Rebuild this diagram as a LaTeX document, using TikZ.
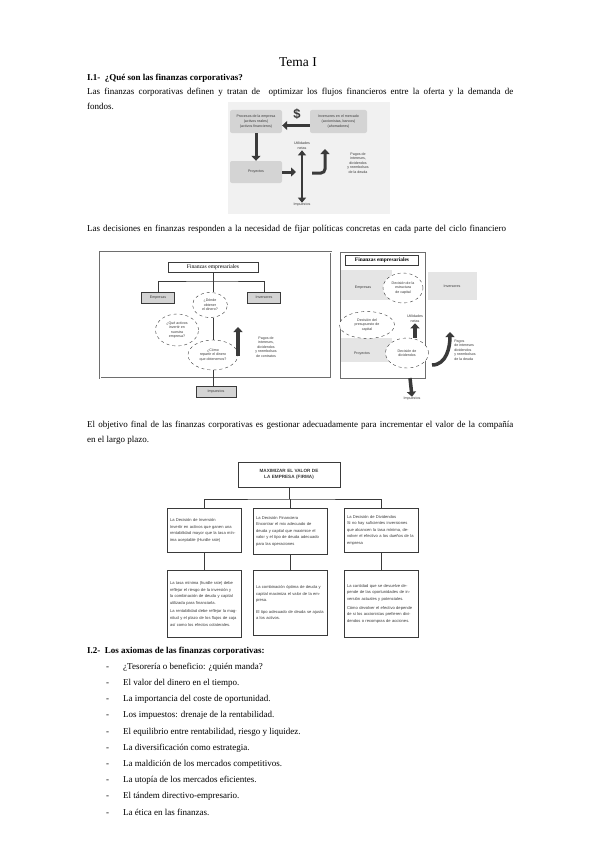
\documentclass[tikz,border=0pt]{standalone}
\usepackage{fontspec}
\setmainfont{Liberation Serif}
\setsansfont{Liberation Sans}
\usetikzlibrary{arrows.meta,positioning,shapes.geometric,calc,shadows}
\definecolor{scangray}{HTML}{D4D4D4}
\definecolor{scanpale}{HTML}{F1F1F1}
\definecolor{scanline}{HTML}{6E6E6E}
\definecolor{scanink}{HTML}{3A3A3A}
\tikzset{
  bodytext/.style={
    anchor=north west,
    inner sep=0pt,
    text width=426pt,
    align=justify,
    font=\fontsize{9}{14.5}\selectfont
  },
  heading/.style={
    anchor=base west,
    inner sep=0pt,
    font=\bfseries\fontsize{9}{11}\selectfont
  },
  listitem/.style={
    anchor=base west,
    inner sep=0pt,
    font=\fontsize{9}{11}\selectfont
  },
  graybox/.style={
    fill=scangray,
    rounded corners=2pt,
    align=center,
    text=scanink,
    font=\sffamily\fontsize{3.6}{4.6}\selectfont
  },
  scanlabel/.style={
    align=center,
    inner sep=0.5pt,
    text=scanink,
    font=\sffamily\fontsize{3.6}{4.6}\selectfont
  },
  dashell/.style={
    ellipse,
    draw=scanink,
    dashed,
    fill=white,
    inner sep=0pt,
    align=center,
    text=scanink,
    font=\sffamily\fontsize{3.6}{4.6}\selectfont
  },
  goalbox/.style={
    draw=scanink,
    fill=white,
    line width=0.6pt,
    drop shadow={shadow xshift=1pt,shadow yshift=-1pt,opacity=0.6},
    inner sep=2.5pt,
    align=left,
    text width=68pt,
    minimum width=74pt,
    anchor=north,
    text=scanink,
    font=\sffamily\fontsize{4.1}{6.6}\selectfont
  },
  fatarrow/.style={
    -{Triangle[length=5pt,width=9pt]},
    line width=3pt,
    draw=scanink
  },
  thinline/.style={
    draw=scanink,
    line width=0.6pt
  }
}

\begin{document}
\begin{tikzpicture}[x=1pt,y=-1pt]
  \useasboundingbox (0,0) rectangle (599,848);
  \fill[white] (0,0) rectangle (599,848);

  % page text
  \node[font=\fontsize{13.5}{15}\selectfont, inner sep=0pt] (title) at (298,62) {Tema I};
  \node[heading] (sec1) at (87,81) {I.1-\ \ ¿Qué son las finanzas corporativas?};
  \node[bodytext] (par1) at (87,88) {Las finanzas corporativas definen y tratan de\ \ optimizar los flujos financieros entre la oferta y la demanda de\linebreak fondos.};

  % flujo de fondos
  \fill[scanpale] (228,102) rectangle (390,214);
  \node[graybox, minimum width=52pt, minimum height=23pt] (procA) at (256,121.5) {Procesos de la empresa\\(activos reales)\\(activos financieros)};
  \node[graybox, minimum width=57pt, minimum height=23pt] (mercA) at (338.5,121.5) {Inversores en el mercado\\(accionistas, bancos)\\(ahorradores)};
  \node[font=\sffamily\bfseries\fontsize{13}{13}\selectfont, text=scanink, inner sep=0pt] (dollarA) at (297,114) {\$};
  \node[graybox, minimum width=52pt, minimum height=22pt] (proyA) at (256,172) {Proyectos};
  \node[scanlabel] (utilA) at (302,146) {Utilidades\\netas};
  \node[scanlabel] (impA) at (302,205) {Impuestos};
  \node[scanlabel, font=\sffamily\fontsize{3.6}{4.4}\selectfont] (pagosA) at (358,163) {Pagos de\\intereses,\\dividendos\\y reembolsos\\de la deuda};
  \coordinate (vlineA) at (296,172);
  \coordinate (bendA0) at (312,173);
  \coordinate (bendA1) at (325,149);
  \draw[fatarrow] ([yshift=-4pt]mercA.west) -- ([yshift=-4pt]procA.east);
  \draw[fatarrow] (procA.south) -- (proyA.north);
  \draw[fatarrow] (proyA.east) -- (vlineA);
  \draw[fatarrow, line width=2.5pt, {Triangle[length=5pt,width=8pt]}-{Triangle[length=5pt,width=8pt]}] (utilA.south) -- (impA.north);
  \draw[fatarrow, rounded corners=4pt] (bendA0) -| (bendA1);

  \node[bodytext, text width=440pt, align=left] (par2) at (87,225) {Las decisiones en finanzas responden a la necesidad de fijar políticas concretas en cada parte del ciclo financiero};

  % finanzas empresariales (izquierda)
  \draw[scanline, line width=0.5pt, double=white, double distance=1pt] (100,252) rectangle (331,378);
  \node[draw=scanink, fill=white, minimum width=90pt, minimum height=10pt, inner sep=0pt, font=\fontsize{5.6}{6}\selectfont] (finA) at (213,267) {Finanzas empresariales};
  \node[graybox, draw=scanink, rounded corners=0pt, minimum width=33pt, minimum height=11pt] (empA) at (158,297.5) {Empresas};
  \node[graybox, draw=scanink, rounded corners=0pt, minimum width=33pt, minimum height=11pt] (invA) at (264,297.5) {Inversores};
  \node[dashell, minimum width=35pt, minimum height=25pt] (dondeA) at (210,305) {¿Dónde\\obtener\\el dinero?};
  \node[dashell, minimum width=43pt, minimum height=32pt] (activA) at (177,330) {¿Qué activos\\invertir en\\nuestra\\empresa?};
  \node[dashell, minimum width=50pt, minimum height=30pt] (repA) at (213,355) {¿Cómo\\repartir el dinero\\que obtenemos?};
  \node[graybox, draw=scanink, rounded corners=0pt, minimum width=40pt, minimum height=11pt] (impB) at (216,392) {Impuestos};
  \node[scanlabel] (pagosB) at (266,347) {Pagos de\\intereses,\\dividendos\\y reembolsos\\de contratos};
  \coordinate (hbarA) at (213,281);
  \coordinate (upA0) at (238,356);
  \coordinate (upA1) at (238,327);
  \draw[thinline] (finA.south) -- (hbarA);
  \draw[thinline] (empA.north) |- (hbarA) -| (invA.north);
  \draw[thinline] (hbarA) -- (hbarA |- dondeA.north);
  \draw[thinline] (213,317.5) -- (repA.north);
  \draw[thinline] (repA.south) -- (repA.south |- impB.north);
  \draw[fatarrow, line width=3.5pt] (upA0) -- (upA1);

  % finanzas empresariales (derecha)
  \fill[scangray!60] (340,270) rectangle (392,300);
  \fill[scangray!60] (428,272) rectangle (477,300);
  \fill[scangray!60] (340,338) rectangle (392,362);
  \draw[scanline, line width=0.6pt] (340,252) rectangle (425,378);
  \node[draw=scanink, fill=white, minimum width=73pt, minimum height=10pt, inner sep=0pt, font=\bfseries\fontsize{5.4}{6}\selectfont] (finB) at (382,260) {Finanzas empresariales};
  \node[scanlabel] (empB) at (363,288) {Empresas};
  \node[scanlabel] (invB) at (452,286) {Inversores};
  \node[scanlabel] (proyB) at (362,354) {Proyectos};
  \node[dashell, minimum width=40pt, minimum height=30pt] (estrB) at (403,288) {Decisión de la\\estructura\\de capital};
  \node[dashell, minimum width=55pt, minimum height=27pt] (presB) at (367,325) {Decisión del\\presupuesto de\\capital};
  \node[dashell, minimum width=43pt, minimum height=30pt] (divB) at (407,353) {Decisión de\\dividendos};
  \node[scanlabel] (utilB) at (415,319) {Utilidades\\netas};
  \node[scanlabel] (impC) at (412,399) {Impuestos};
  \node[scanlabel, align=left] (pagosC) at (465,350) {Pagos\\de intereses\\dividendos\\y reembolsos\\de la deuda};
  \coordinate (curvB0) at (432,365);
  \coordinate (curvB1) at (450,332);
  \draw[fatarrow, line width=3.5pt] (divB.north -| utilB) -- (utilB.south);
  \draw[fatarrow, line width=3.5pt] (curvB0) to[out=0, in=-90] (curvB1);
  \draw[fatarrow, line width=3.5pt] (410,378) -- (impC.north);

  \node[bodytext] (par3) at (87,421) {El objetivo final de las finanzas corporativas es gestionar adecuadamente para incrementar el valor de la compañía\linebreak en el largo plazo.};

  % maximizar el valor
  \node[goalbox, text width=96pt, minimum width=102pt, minimum height=25pt, align=center, font=\sffamily\bfseries\fontsize{4.6}{6}\selectfont] (maxC) at (289,462) {MAXIMIZAR EL VALOR DE\\LA EMPRESA (FIRMA)};
  \node[goalbox, minimum height=44pt] (invC) at (204,508) {La Decisión de Inversión\\Invertir en activos que ganen una rentabilidad mayor que la tasa mínima aceptable (Hurdle rate)};
  \node[goalbox, minimum height=46pt] (finC) at (290,508) {La Decisión Financiera\\Encontrar el mix adecuado de deuda y capital que maximice el valor y el tipo de deuda adecuado para las operaciones};
  \node[goalbox, minimum height=44pt] (divC) at (381,508) {La Decisión de Dividendos\\Si no hay suficientes inversiones que alcancen la tasa mínima, devolver el efectivo a los dueños de la empresa};
  \node[goalbox, minimum height=67pt] (hurdC) at (204,570) {La tasa mínima (hurdle rate) debe reflejar el riesgo de la inversión y la combinación de deuda y capital utilizada para financiarla.\\[2pt]La rentabilidad debe reflejar la magnitud y el plazo de los flujos de caja así como los efectos colaterales.};
  \node[goalbox, minimum height=65pt] (mixC) at (290,570) {La combinación óptima de deuda y capital maximiza el valor de la empresa.\\[5pt]El tipo adecuado de deuda se ajusta a los activos.};
  \node[goalbox, minimum height=67pt] (cantC) at (381,570) {La cantidad que se devuelve depende de las oportunidades de inversión actuales y potenciales.\\[2pt]Cómo devolver el efectivo depende de si los accionistas prefieren dividendos o recompras de acciones.};
  \coordinate (hbarC) at (290,499);
  \draw[thinline] (maxC.south) -- (maxC.south |- hbarC);
  \draw[thinline] (invC.north) |- (hbarC) -| (divC.north);
  \foreach \a/\b in {hbarC/finC.north,invC.south/hurdC.north,finC.south/mixC.north,divC.south/cantC.north} {
    \draw[thinline] (\a) -- (\b);
  }

  % axiomas
  \node[heading] (sec2) at (87,653) {I.2-\ \ Los axiomas de las finanzas corporativas:};
  \foreach \txt [count=\i] in {¿Tesorería o beneficio: ¿quién manda?,El valor del dinero en el tiempo.,La importancia del coste de oportunidad.,Los impuestos: drenaje de la rentabilidad.,{El equilibrio entre rentabilidad, riesgo y liquidez.},La diversificación como estrategia.,La maldición de los mercados competitivos.,La utopía de los mercados eficientes.,El tándem directivo-empresario.,La ética en las finanzas.} {
    \node[listitem] (dash\i) at (106,653+16.2*\i) {-};
    \node[listitem] (ax\i) at (123,653+16.2*\i) {\txt};
  }
\end{tikzpicture}
\end{document}
